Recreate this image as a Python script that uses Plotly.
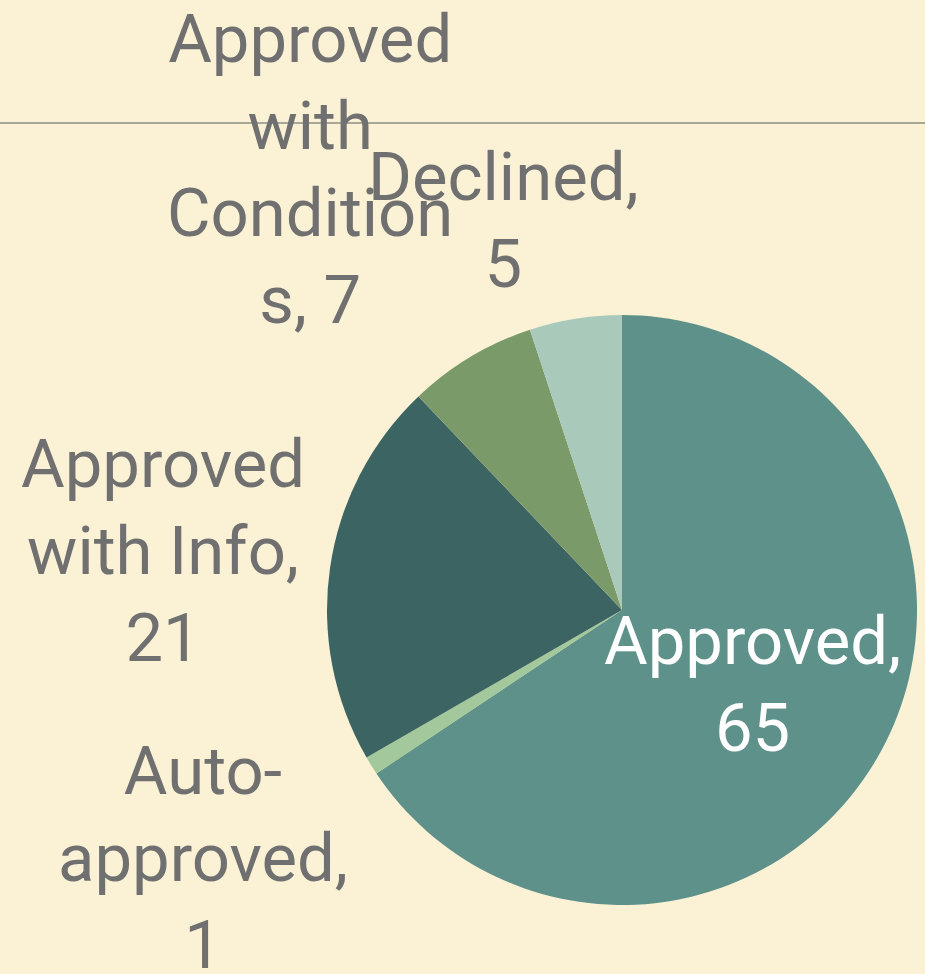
import plotly.graph_objects as go

categories = ["Approved", "Auto-approved", "Approved with Info", "Approved with Conditions", "Declined"]
values = [65, 1, 21, 7, 5]
colors = ["#5E9189", "#A3C89C", "#3C6462", "#7A9A6A", "#A9C9BA"]
# wrapped label names as shown on the chart
wrapped_names = ["Approved,", "Auto-<br>approved,", "Approved<br>with Info,", "Approved<br>with<br>Condition<br>s,", "Declined,"]
label_text = [f"{n}<br>{v}" if not n.endswith("s,") else f"{n[:-2]}s, {v}" for n, v in zip(wrapped_names, values)]
# label centres in pixels (x, y of block centre) and colour
label_pos = [(752, 684), (203, 858), (163, 551), (310, 170), (503, 220)]
label_color = ["#FFFFFF", "#707070", "#707070", "#707070", "#707070"]

W, H = 925, 974
cx, cy, r = 622, 610, 295

fig = go.Figure()
fig.add_trace(go.Pie(
    labels=categories,
    values=values,
    sort=False,
    direction="clockwise",
    rotation=0,
    marker=dict(colors=colors, line=dict(width=0)),
    textinfo="none",
    hoverinfo="label+value",
    showlegend=False,
    domain=dict(x=[(cx - r) / W, (cx + r) / W], y=[1 - (cy + r) / H, 1 - (cy - r) / H]),
))

for txt, (px, py), col in zip(label_text, label_pos, label_color):
    fig.add_annotation(
        x=px / W, y=1 - py / H, xref="paper", yref="paper",
        text=txt, showarrow=False, xanchor="center", yanchor="middle",
        align="center",
        font=dict(family="Roboto", size=67, color=col),
    )

fig.add_shape(type="line", xref="paper", yref="paper", x0=0, x1=1,
              y0=1 - 123 / H, y1=1 - 123 / H,
              line=dict(color="#A9A797", width=2), layer="below")

fig.update_layout(
    width=W, height=H,
    margin=dict(l=0, r=0, t=0, b=0),
    paper_bgcolor="#FBF2D6",
    plot_bgcolor="#FBF2D6",
)

fig.write_html("out.html", config={"displayModeBar": False},
               post_script="document.body.style.margin='0';document.body.style.overflow='hidden';")
